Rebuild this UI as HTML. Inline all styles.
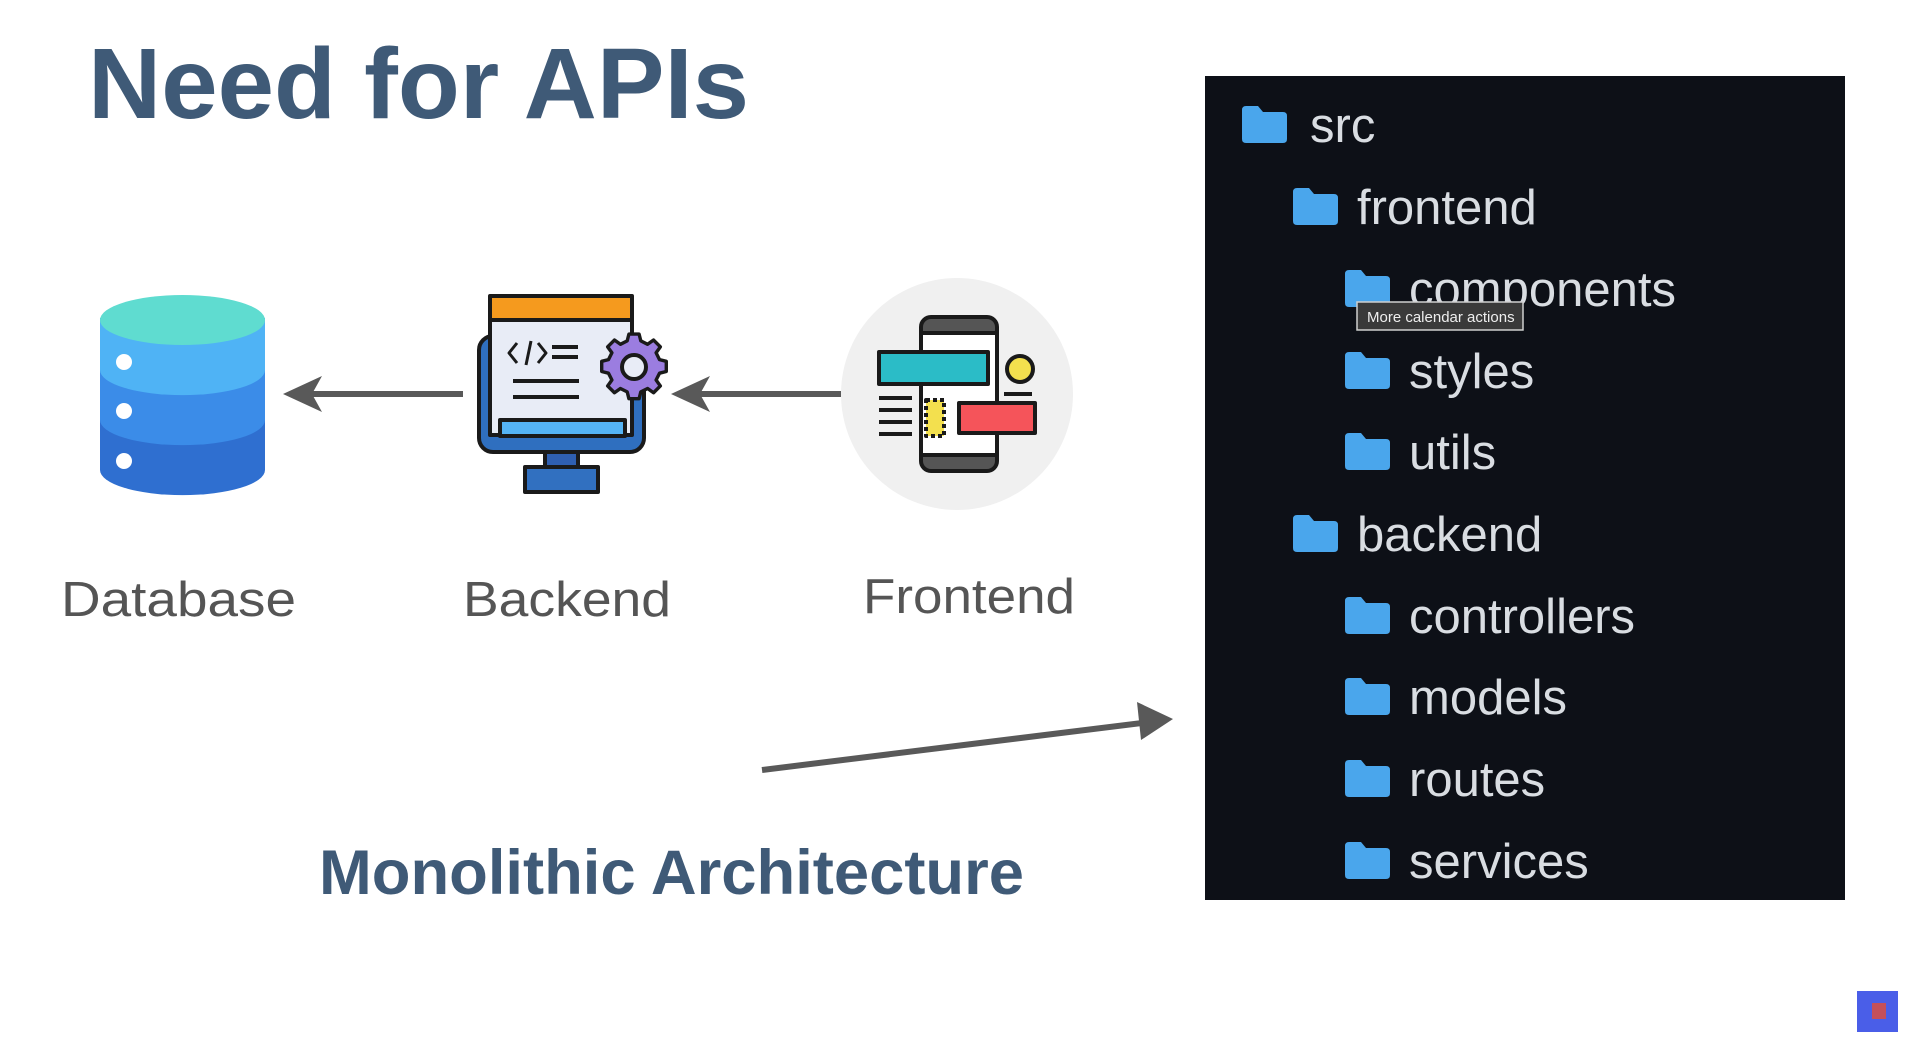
<!DOCTYPE html>
<html><head><meta charset="utf-8"><style>
html,body{margin:0;padding:0;background:#fff;}
svg{display:block;}
</style></head><body>
<svg width="1912" height="1041" viewBox="0 0 1912 1041" xmlns="http://www.w3.org/2000/svg" font-family="Liberation Sans, sans-serif">
<defs>
<g id="fold"><path d="M0 4 Q0 0 4 0 H16 L21 6 H41 Q45 6 45 10 V33 Q45 37 41 37 H4 Q0 37 0 33 Z" fill="#4aa6ec"/></g>
</defs>
<rect width="1912" height="1041" fill="#fff"/>
<text x="88" y="118" font-size="100" font-weight="bold" fill="#3f5a77" textLength="661" lengthAdjust="spacingAndGlyphs">Need for APIs</text>

<g>
<path d="M100 318 V470 A82 25 0 0 0 265 470 V318 Z" fill="#2f6fd0"/>
<path d="M100 318 V420 A82 25 0 0 0 265 420 V318 Z" fill="#3b8ce8"/>
<path d="M100 318 V370 A82 25 0 0 0 265 370 V318 Z" fill="#4fb3f5"/>
<ellipse cx="182.5" cy="320" rx="82.5" ry="25" fill="#5fdcd0"/>
<ellipse cx="124" cy="362" rx="8" ry="8" fill="#fff"/>
<ellipse cx="124" cy="411" rx="8" ry="8" fill="#fff"/>
<ellipse cx="124" cy="461" rx="8" ry="8" fill="#fff"/>
</g>

<line x1="463" y1="394" x2="300" y2="394" stroke="#595959" stroke-width="6"/>
<path d="M283 394 L322 376 L312 394 L322 412 Z" fill="#595959"/>
<line x1="841" y1="394" x2="690" y2="394" stroke="#595959" stroke-width="6"/>
<path d="M671 394 L710 376 L700 394 L710 412 Z" fill="#595959"/>

<g stroke="#1a1a1a" stroke-width="4" stroke-linejoin="round">
<rect x="545" y="448" width="33" height="22" fill="#2f5fb0"/>
<rect x="525" y="467" width="73" height="25" fill="#3170c0"/>
<rect x="479" y="336" width="165" height="116" rx="14" fill="#2f6fbf"/>
<rect x="490" y="296" width="142" height="25" fill="#f59a1e"/>
<rect x="490" y="320" width="142" height="115" fill="#e8ecf6"/>
<rect x="500" y="420" width="125" height="16" fill="#55b4f5"/>
<path d="M517 343 l-8 10 l8 10 M531 341 l-5 24 M538 343 l8 10 l-8 10" fill="none" stroke-width="3"/>
<path d="M552 347 h26 M552 357 h26 M513 381 h66 M513 397 h66" stroke-width="4"/>
<g transform="translate(634 367)">
<path d="M-6 -34 H6 L8 -26 L16 -22 L23 -27 L31 -19 L26 -12 L30 -4 L38 -2 V10 L30 12 L26 20 L31 27 L23 35 L16 30 L8 34 L6 42 H-6 L-8 34 L-16 30 L-23 35 L-31 27 L-26 20 L-30 12 L-38 10 V-2 L-30 -4 L-26 -12 L-31 -19 L-23 -27 L-16 -22 L-8 -26 Z" transform="translate(0 -4) scale(0.85)" fill="#9b7de0"/>
<circle cx="0" cy="0" r="12" fill="#e8ecf6"/>
</g>
</g>

<circle cx="957" cy="394" r="116" fill="#f0f0f0"/>
<g stroke="#1a1a1a" stroke-width="4" stroke-linejoin="round">
<rect x="921" y="317" width="76" height="154" rx="10" fill="#555"/>
<rect x="921" y="333" width="76" height="122" fill="#fff"/>
<rect x="879" y="352" width="109" height="32" fill="#2bbcc7"/>
<circle cx="1020" cy="369" r="13" fill="#f3e04e"/>
<rect x="959" y="403" width="76" height="30" fill="#f5545a"/>
<rect x="926" y="400" width="18" height="36" fill="#f3e04e" stroke-dasharray="4 3"/>
<path d="M879 398 h33 M879 410 h33 M879 422 h33 M879 434 h33 M1004 394 h28" stroke-width="4"/>
</g>

<text x="61" y="616" font-size="49" fill="#555" textLength="235" lengthAdjust="spacingAndGlyphs">Database</text>
<text x="463" y="616" font-size="49" fill="#555" textLength="208" lengthAdjust="spacingAndGlyphs">Backend</text>
<text x="863" y="613" font-size="49" fill="#555" textLength="212" lengthAdjust="spacingAndGlyphs">Frontend</text>

<line x1="762" y1="770" x2="1150" y2="722" stroke="#595959" stroke-width="6"/>
<path d="M1173 719 L1137 702 L1141 740 Z" fill="#595959"/>

<text x="319" y="894" font-size="63" font-weight="bold" fill="#3f5a77" textLength="705" lengthAdjust="spacingAndGlyphs">Monolithic Architecture</text>

<rect x="1205" y="76" width="640" height="824" fill="#0d1017"/>
<g fill="#d9dde2" font-size="49">
<use href="#fold" x="1242" y="106"/><text x="1310" y="142">src</text>
<use href="#fold" x="1293" y="188"/><text x="1357" y="224">frontend</text>
<use href="#fold" x="1345" y="270"/><text x="1409" y="306">components</text>
<use href="#fold" x="1345" y="352"/><text x="1409" y="388">styles</text>
<use href="#fold" x="1345" y="433"/><text x="1409" y="469">utils</text>
<use href="#fold" x="1293" y="515"/><text x="1357" y="551">backend</text>
<use href="#fold" x="1345" y="597"/><text x="1409" y="633">controllers</text>
<use href="#fold" x="1345" y="678"/><text x="1409" y="714">models</text>
<use href="#fold" x="1345" y="760"/><text x="1409" y="796">routes</text>
<use href="#fold" x="1345" y="842"/><text x="1409" y="878">services</text>
</g>
<rect x="1357" y="302" width="166" height="28" fill="#3a3a3a" stroke="#cfcfcf" stroke-width="1.5"/>
<text x="1367" y="322" font-size="15" fill="#eee">More calendar actions</text>

<rect x="1857" y="991" width="41" height="41" fill="#4a5ee8"/>
<rect x="1872" y="1003" width="14" height="16" fill="#c4505a"/>
</svg>
</body></html>
